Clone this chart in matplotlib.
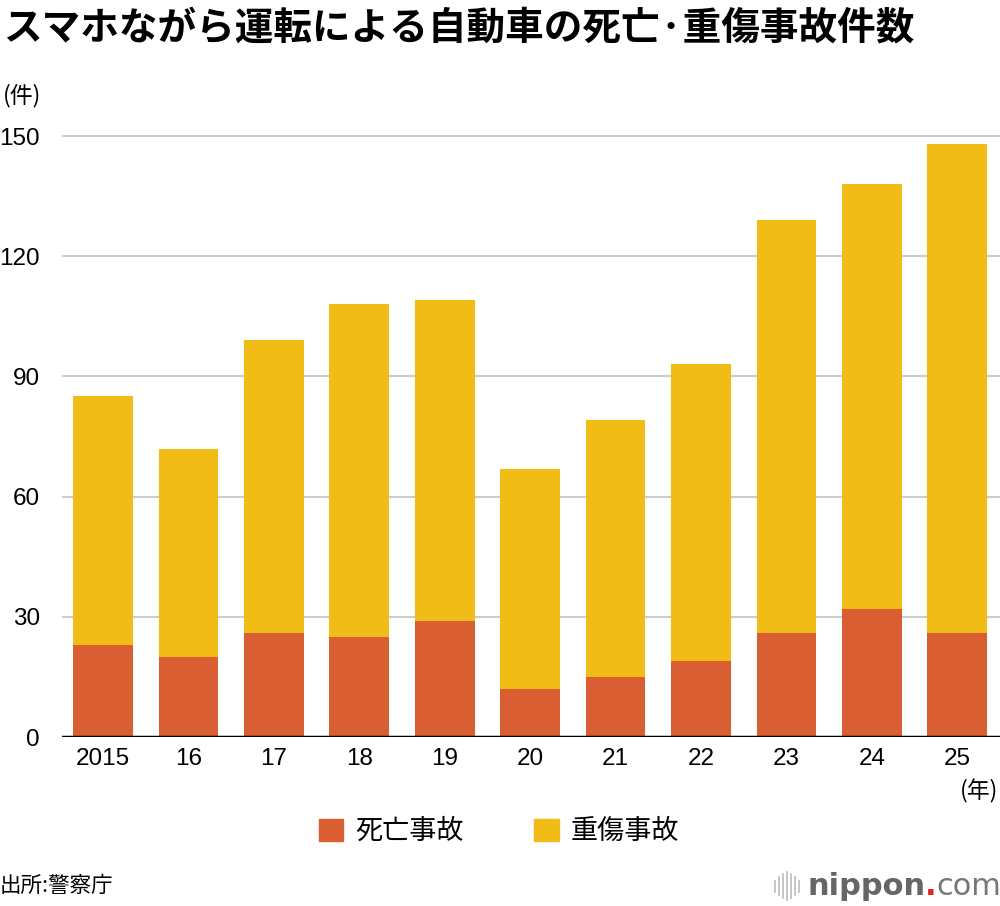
import matplotlib
matplotlib.use("Agg")
import matplotlib.pyplot as plt
from matplotlib.patches import Patch
from matplotlib.lines import Line2D
import numpy as np

plt.rcParams["font.family"] = ["Noto Sans CJK JP", "DejaVu Sans"]

# data
years = ["2015", "16", "17", "18", "19", "20", "21", "22", "23", "24", "25"]
deaths = [23, 20, 26, 25, 29, 12, 15, 19, 26, 32, 26]
serious = [62, 52, 73, 83, 80, 55, 64, 74, 103, 106, 122]
yticks = [0, 30, 60, 90, 120, 150]

c_death = "#D95F33"
c_serious = "#F0BC15"

fig = plt.figure(figsize=(10, 9.06), dpi=100)
ax = fig.add_axes([0.062, 0.1865, 0.938, 0.6678])

x = np.arange(len(years))
ax.bar(x, deaths, width=0.70, color=c_death, zorder=3)
ax.bar(x, serious, width=0.70, bottom=deaths, color=c_serious, zorder=3)

ax.set_xlim(-0.48, 10.5)
ax.set_ylim(0, 151)
ax.set_yticks(yticks)
ax.set_yticklabels([str(v) for v in yticks], fontsize=17.5, family="Liberation Sans")
ax.set_xticks(x)
ax.set_xticklabels(years, fontsize=17.5, family="Liberation Sans")
ax.tick_params(axis="both", length=0)
ax.tick_params(axis="y", pad=16)
ax.tick_params(axis="x", pad=8)
ax.yaxis.grid(True, color="#cccccc", lw=1.5, zorder=0)
ax.axhline(0, color="black", lw=2.5, zorder=4)
for s in ax.spines.values():
    s.set_visible(False)

# titles / notes
fig.text(0.003, 0.969, "スマホながら運転による自動車の死亡\u00b7重傷事故件数",
         fontsize=27.8, fontweight="bold", va="center", ha="left")
fig.text(0.003, 0.895, "(件)", fontsize=16.5, va="center", ha="left")
fig.text(0.998, 0.127, "(年)", fontsize=16.5, va="center", ha="right")
fig.text(0.0, 0.022, "出所:警察庁", fontsize=15.5, va="center", ha="left")

handles = [Patch(color=c_death, label="死亡事故"), Patch(color=c_serious, label="重傷事故")]
fig.legend(handles=handles, loc="center", bbox_to_anchor=(0.499, 0.082), ncol=2,
           frameon=False, fontsize=19.5, handlelength=0.9, handleheight=0.9,
           columnspacing=2.6, handletextpad=0.45)

# nippon.com logo
for i, h in enumerate([0.012, 0.020, 0.026, 0.030, 0.026, 0.020, 0.012]):
    xx = 0.775 + i * 0.004
    fig.add_artist(Line2D([xx, xx], [0.022 - h / 2, 0.022 + h / 2], color="#bbbbbb", lw=1.2))
fig.text(0.808, 0.022, "nippon", fontsize=22, fontweight="bold", color="#666666",
         va="center", ha="left", family="DejaVu Sans")
fig.text(0.925, 0.022, ".", fontsize=22, fontweight="bold", color="#e8202a",
         va="center", ha="left", family="DejaVu Sans")
fig.text(0.936, 0.022, "com", fontsize=22, color="#777777", va="center", ha="left",
         family="DejaVu Sans")

fig.savefig("out.png", dpi=100, facecolor="white")
